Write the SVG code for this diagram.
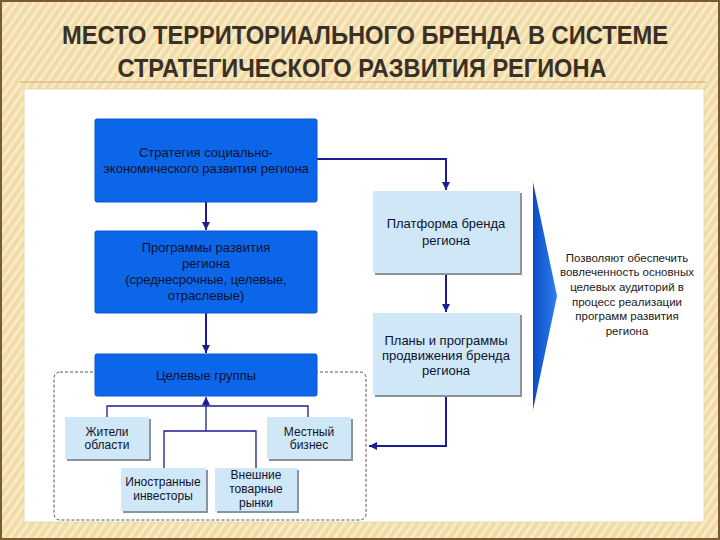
<svg xmlns="http://www.w3.org/2000/svg" width="720" height="540" viewBox="0 0 720 540">
<defs>
<pattern id="stripes" width="7" height="7" patternUnits="userSpaceOnUse" patternTransform="rotate(35)">
<rect width="7" height="7" fill="#f1dba6"/>
<rect width="3" height="7" fill="#f8ebc6"/>
</pattern>
<linearGradient id="chev" x1="0" y1="0" x2="1" y2="0">
<stop offset="0" stop-color="#0a4cc4"/>
<stop offset="1" stop-color="#2f7ff0"/>
</linearGradient>
<marker id="ah" viewBox="0 0 10 10" refX="10" refY="5" markerWidth="8" markerHeight="8" markerUnits="userSpaceOnUse" orient="auto">
<path d="M0,0 L10,5 L0,10 z" fill="#1c1c96"/>
</marker>
<style>
.title{font-family:"Liberation Sans",Arial,sans-serif;font-size:26px;font-weight:bold;fill:#3a3026;text-anchor:middle}
.dk{fill:#0b66ea;stroke:#0a56c8;stroke-width:1}
.lt{fill:#cfe7f7}
.sh{fill:#8a949c}
.t{font-family:"Liberation Sans",Arial,sans-serif;font-size:13px;fill:#0d1230;text-anchor:middle}
.ts{font-family:"Liberation Sans",Arial,sans-serif;font-size:12px;fill:#101530;text-anchor:middle}
.tr{font-family:"Liberation Sans",Arial,sans-serif;font-size:11.5px;fill:#1a1a1a;text-anchor:middle}
.c{fill:none;stroke:#1c1c96;stroke-width:2}
.c2{fill:none;stroke:#1c1c96;stroke-width:1.3}
</style>
</defs>
<rect x="0" y="0" width="720" height="540" fill="url(#stripes)"/>
<rect x="1" y="1" width="718" height="538" fill="none" stroke="#7a5a2e" stroke-width="2"/>
<line x1="20" y1="82" x2="706" y2="82" stroke="#d9c08a" stroke-width="1.5"/>
<text class="title" x="365" y="44" textLength="606" lengthAdjust="spacingAndGlyphs">МЕСТО ТЕРРИТОРИАЛЬНОГО БРЕНДА В СИСТЕМЕ</text>
<text class="title" x="362" y="77" textLength="489" lengthAdjust="spacingAndGlyphs">СТРАТЕГИЧЕСКОГО РАЗВИТИЯ РЕГИОНА</text>
<rect x="24" y="89" width="680" height="433" fill="#ffffff" stroke="#e8d8b0" stroke-width="1"/>

<rect id="frame" x="54" y="372" width="312" height="148" rx="6" fill="none" stroke="#555" stroke-width="1" stroke-dasharray="3,2"/>

<g id="connectors">
<polyline class="c" points="317,159 446,159 446,190" marker-end="url(#ah)"/>
<line class="c" x1="206" y1="202" x2="206" y2="230" marker-end="url(#ah)"/>
<line class="c" x1="206" y1="313" x2="206" y2="353" marker-end="url(#ah)"/>
<line class="c" x1="446" y1="273" x2="446" y2="312" marker-end="url(#ah)"/>
<polyline class="c" points="446,395 446,446 369,446" marker-end="url(#ah)"/>
<polyline class="c2" points="107,417 107,406 308,406 308,417"/>
<polyline class="c2" points="164,468 164,431 256,431 256,468"/>
<line class="c2" x1="206" y1="431" x2="206" y2="397" marker-end="url(#ah)"/>
</g>

<g id="strategy">
<rect class="dk" x="95" y="119" width="222" height="83" rx="2"/>
<text class="t" x="206" y="157">Стратегия социально-</text>
<text class="t" x="206" y="173">экономического развития региона</text>
</g>
<g id="programs">
<rect class="dk" x="95" y="231" width="222" height="82" rx="2"/>
<text class="t" x="206" y="252">Программы развития</text>
<text class="t" x="206" y="268">региона</text>
<text class="t" x="206" y="284">(среднесрочные, целевые,</text>
<text class="t" x="206" y="300">отраслевые)</text>
</g>
<g id="target">
<rect class="dk" x="95" y="354" width="222" height="42" rx="2"/>
<text class="t" x="206" y="380">Целевые группы</text>
</g>
<g id="platform">
<rect class="sh" x="375" y="193" width="147" height="82"/>
<rect class="lt" x="373" y="191" width="147" height="82"/>
<text class="t" x="446" y="228">Платформа бренда</text>
<text class="t" x="446" y="245">региона</text>
</g>
<g id="plans">
<rect class="sh" x="375" y="315" width="147" height="82"/>
<rect class="lt" x="373" y="313" width="147" height="82"/>
<text class="t" x="446" y="345">Планы и программы</text>
<text class="t" x="446" y="360">продвижения бренда</text>
<text class="t" x="446" y="375">региона</text>
</g>
<g id="residents">
<rect class="sh" x="67" y="419" width="84" height="42"/>
<rect class="lt" x="65" y="417" width="84" height="42"/>
<text class="ts" x="107" y="436">Жители</text>
<text class="ts" x="107" y="449">области</text>
</g>
<g id="business">
<rect class="sh" x="269" y="419" width="84" height="42"/>
<rect class="lt" x="267" y="417" width="84" height="42"/>
<text class="ts" x="309" y="436">Местный</text>
<text class="ts" x="309" y="449">бизнес</text>
</g>
<g id="investors">
<rect class="sh" x="123" y="470" width="85" height="43"/>
<rect class="lt" x="121" y="468" width="85" height="43"/>
<text class="ts" x="163" y="486">Иностранные</text>
<text class="ts" x="163" y="500">инвесторы</text>
</g>
<g id="markets">
<rect class="sh" x="217" y="470" width="82" height="43"/>
<rect class="lt" x="215" y="468" width="82" height="43"/>
<text class="ts" x="256" y="479">Внешние</text>
<text class="ts" x="256" y="493">товарные</text>
<text class="ts" x="256" y="507">рынки</text>
</g>
<g id="chevron">
<polygon points="533,182 557,296 533,410" fill="url(#chev)"/>
</g>
<g id="result">
<text class="tr" x="627" y="262">Позволяют обеспечить</text>
<text class="tr" x="627" y="276">вовлеченность основных</text>
<text class="tr" x="627" y="291">целевых аудиторий в</text>
<text class="tr" x="627" y="306">процесс реализации</text>
<text class="tr" x="627" y="320">программ развития</text>
<text class="tr" x="627" y="335">региона</text>
</g>
</svg>
